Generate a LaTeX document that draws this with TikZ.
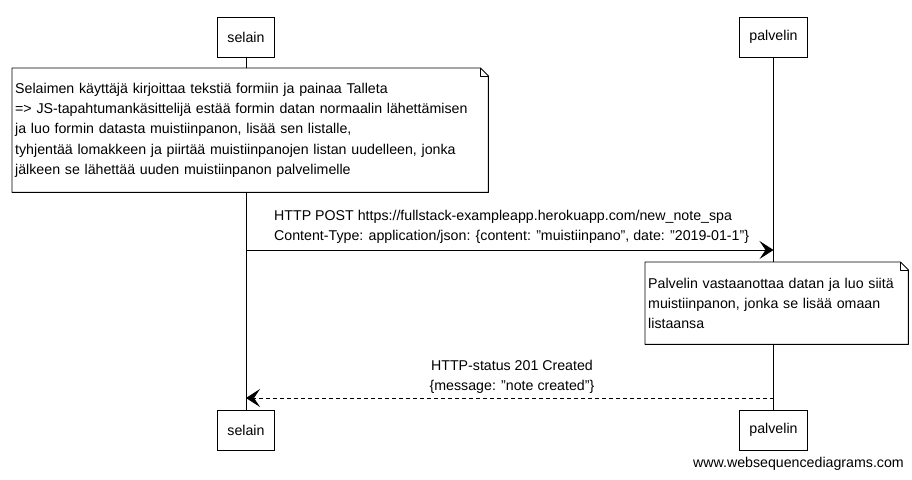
\documentclass[tikz,border=0pt]{standalone}
\usepackage{fontspec}
\setmainfont{Liberation Sans}
\usetikzlibrary{arrows.meta,calc}
\newcommand{\dq}{\char34\relax}
\begin{document}
\begin{tikzpicture}[x=1pt,y=-1pt,
  font=\fontsize{14.2}{20.2}\selectfont,
  actor/.style={draw, line width=0.9pt, fill=white, minimum height=40pt, inner xsep=10pt},
  notebox/.style={fill=white, draw=none, inner xsep=3pt, inner ysep=0pt, align=left, anchor=north west},
  noteline/.style={line width=0.9pt, line join=round},
  lifeline/.style={line width=0.7pt},
  msg/.style={line width=0.9pt, -{Stealth[length=14pt,width=18pt,inset=6pt]}},
  reply/.style={msg, dashed, dash pattern=on 4pt off 3pt}]
\useasboundingbox[fill=white] (0,0) rectangle (912,479);

% actors
\node[actor] (s1) at (246,37) {selain};
\node[actor] (p1) at (773.5,37) {palvelin};
\node[actor] (s2) at (246,430) {selain};
\node[actor] (p2) at (773.5,430) {palvelin};

% lifelines
\draw[lifeline] (s1.south) -- (s2.north);
\draw[lifeline] (p1.south) -- (p2.north);

% note 1
\node[notebox, text width=470pt, minimum height=124pt] (n1) at (12,68)
 {Selaimen käyttäjä kirjoittaa tekstiä formiin ja painaa Talleta\\
 => JS-tapahtumankäsittelijä estää formin datan normaalin lähettämisen\\
 ja luo formin datasta muistiinpanon, lisää sen listalle,\\
 tyhjentää lomakkeen ja piirtää muistiinpanojen listan uudelleen, jonka\\
 jälkeen se lähettää uuden muistiinpanon palvelimelle};
\draw[noteline] (n1.north west) -- ($(n1.north east)+(-8,0)$) -- ($(n1.north east)+(0,8)$)
  -- (n1.south east) -- (n1.south west) -- cycle;
\draw[noteline, line width=0.6pt] ($(n1.north east)+(-8,0)$) -- ($(n1.north east)+(-8,8)$) -- ($(n1.north east)+(0,8)$);

% message 1
\coordinate (m1a) at (s1 |- 0,250);
\coordinate (m1b) at (p1 |- 0,250);
\draw[msg] (m1a) -- (m1b);
\node[anchor=west, align=left, inner sep=0pt] (t1) at (274,227)
 {HTTP POST https://fullstack-exampleapp.herokuapp.com/new\_note\_spa\\
  Content-Type: application/json: \{content: \dq muistiinpano\dq, date: \dq 2019-01-1\dq\}};

% note 2
\node[notebox, text width=257pt, minimum height=82pt] (n2) at (645,262)
 {Palvelin vastaanottaa datan ja luo siitä\\
  muistiinpanon, jonka se lisää omaan\\
  listaansa};
\draw[noteline] (n2.north west) -- ($(n2.north east)+(-8,0)$) -- ($(n2.north east)+(0,8)$)
  -- (n2.south east) -- (n2.south west) -- cycle;
\draw[noteline, line width=0.6pt] ($(n2.north east)+(-8,0)$) -- ($(n2.north east)+(-8,8)$) -- ($(n2.north east)+(0,8)$);

% message 2
\coordinate (m2a) at (p1 |- 0,398);
\coordinate (m2b) at (s1 |- 0,398);
\draw[reply] (m2a) -- (m2b);
\node[align=center, inner sep=0pt] (t2) at (512,377)
 {HTTP-status 201 Created\\ \{message: \dq note created\dq\}};

% footer
\node[anchor=east, inner sep=0pt, font=\fontsize{14.2}{16}\selectfont] (ft) at (904,464) {www.websequencediagrams.com};
\end{tikzpicture}
\end{document}
